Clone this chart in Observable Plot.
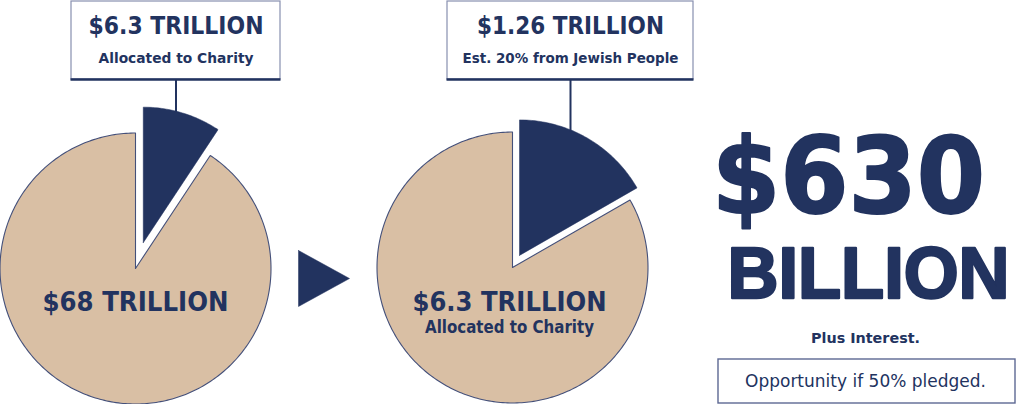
<!DOCTYPE html>
<html>
<head>
<meta charset="utf-8">
<script src="https://cdn.jsdelivr.net/npm/d3@7"></script>
<script src="https://cdn.jsdelivr.net/npm/@observablehq/plot@0.6"></script>
<style>
  html, body { margin: 0; padding: 0; background: #ffffff; }
  #chart { width: 1016px; height: 404px; overflow: hidden; }
</style>
</head>
<body>
<div id="chart"></div>
<script>
// ---------- data ----------
const pie1Shares = [9.3, 90.7];      // highlighted slice vs remainder, first pie
const pie2Shares = [16.7, 83.3];     // highlighted slice vs remainder, second pie
const pieTitles = ["$68 TRILLION", "$6.3 TRILLION"];
const pieSubtitles = ["", "Allocated to Charity"];
const calloutTitles = ["$6.3 TRILLION", "$1.26 TRILLION"];
const calloutSubtitles = ["Allocated to Charity", "Est. 20% from Jewish People"];
const headline = ["$630", "BILLION"];
const noteText = "Plus Interest.";
const footText = "Opportunity if 50% pledged.";

// ---------- style / layout ----------
const NAVY = "#22335f";
const TAN = "#d9bfa4";
const BOXLINE = "#8890b0";
const FONT = "'DejaVu Sans', sans-serif";

const pies = [
  {shares: pie1Shares, cx: 135, cy: 268, r: 135.5, explode: 27, box: [71, 280], title: pieTitles[0], sub: pieSubtitles[0], tx: 135},
  {shares: pie2Shares, cx: 512, cy: 267, r: 135.5, explode: 14, box: [447, 693], title: pieTitles[1], sub: pieSubtitles[1], tx: 509}
];

function arcPolygon(cx, cy, r, a0, a1) {
  const pts = [{x: cx, y: cy}];
  const n = Math.max(8, Math.ceil((a1 - a0) / (Math.PI / 180)));
  for (let i = 0; i <= n; i++) {
    const a = a0 + (a1 - a0) * i / n;
    pts.push({x: cx + r * Math.sin(a), y: cy - r * Math.cos(a)});
  }
  pts.push({x: cx, y: cy});
  return pts;
}

const marks = [];
const pieGen = d3.pie().sort(null).startAngle(0).endAngle(2 * Math.PI);

pies.forEach((p, i) => {
  const arcs = pieGen(p.shares);
  const hi = arcs[0], rest = arcs[1];
  // remainder (tan)
  marks.push(Plot.line(arcPolygon(p.cx, p.cy, p.r, rest.startAngle, rest.endAngle),
    {x: "x", y: "y", fill: TAN, stroke: "#44507a", strokeWidth: 1.1, curve: "linear"}));
  // exploded highlighted slice
  const mid = (hi.startAngle + hi.endAngle) / 2;
  const vx = p.cx + p.explode * Math.sin(mid), vy = p.cy - p.explode * Math.cos(mid);
  marks.push(Plot.line(arcPolygon(vx, vy, p.r, hi.startAngle, hi.endAngle),
    {x: "x", y: "y", fill: NAVY, stroke: NAVY, strokeWidth: 0.5, curve: "linear"}));
  // callout box
  const bx = (p.box[0] + p.box[1]) / 2;
  marks.push(Plot.rect([0], {x1: p.box[0], x2: p.box[1], y1: 1, y2: 79, fill: "white", stroke: BOXLINE, strokeWidth: 1.2}));
  marks.push(Plot.ruleY([79], {x1: p.box[0] - 0.5, x2: p.box[1] + 0.5, stroke: NAVY, strokeWidth: 2.6}));
  // leader line to the slice arc
  const dx = bx - vx;
  const yEnd = vy - Math.sqrt(p.r * p.r - dx * dx) + 2;
  marks.push(Plot.ruleX([bx], {y1: 80, y2: yEnd, stroke: NAVY, strokeWidth: 2}));
  // callout texts
  marks.push(Plot.text([calloutTitles[i]], {x: bx, y: 26, text: d => d, fill: NAVY, fontSize: 24, fontWeight: 800}));
  marks.push(Plot.text([calloutSubtitles[i]], {x: bx, y: 58, text: d => d, fill: NAVY, fontSize: 14.5, fontWeight: 700}));
  // pie labels
  marks.push(Plot.text([p.title], {x: p.tx, y: 302, text: d => d, fill: NAVY, fontSize: 27, fontWeight: 800}));
  if (p.sub) marks.push(Plot.text([p.sub], {x: p.tx, y: 327, text: d => d, fill: NAVY, fontSize: 17, fontWeight: 700}));
});

// arrow between pies
marks.push(Plot.line([{x: 298, y: 250}, {x: 349, y: 278}, {x: 298, y: 306}, {x: 298, y: 250}],
  {x: "x", y: "y", fill: NAVY, stroke: NAVY, strokeWidth: 0.5}));

// headline
marks.push(Plot.text([headline[0]], {x: 848, y: 179, text: d => d, fill: NAVY, fontSize: 106, fontWeight: 900,
  stroke: NAVY, strokeWidth: 2}));
marks.push(Plot.text([headline[1]], {x: 868, y: 274, text: d => d, fill: NAVY, fontSize: 72, fontWeight: 900,
  fontFamily: "'Liberation Sans', Arial, sans-serif", stroke: NAVY, strokeWidth: 2.5}));
marks.push(Plot.text([noteText], {x: 865, y: 338, text: d => d, fill: NAVY, fontSize: 14, fontWeight: 700}));
marks.push(Plot.rect([0], {x1: 718, x2: 1015, y1: 359, y2: 403, fill: "none", stroke: "#5d6893", strokeWidth: 1.4}));
marks.push(Plot.text([footText], {x: 865, y: 381, text: d => d, fill: NAVY, fontSize: 17, fontWeight: 500}));

const chart = Plot.plot({
  width: 1016,
  height: 404,
  margin: 0,
  x: {domain: [0, 1016], range: [0, 1016], axis: null},
  y: {domain: [0, 404], range: [0, 404], axis: null},
  style: {background: "white", fontFamily: FONT, overflow: "visible"},
  marks
});

// fit text widths to the reference lettering
const widths = {
  "$6.3 TRILLION": [175, 194], "Allocated to Charity": [155, 169], "$1.26 TRILLION": [187],
  "Est. 20% from Jewish People": [216], "$68 TRILLION": [186], "$630": [273], "BILLION": [282],
  "Plus Interest.": [109], "Opportunity if 50% pledged.": [241]
};
const seen = {};
chart.querySelectorAll("text").forEach(t => {
  const s = t.textContent;
  if (widths[s]) {
    const k = seen[s] || 0;
    seen[s] = k + 1;
    const w = widths[s][Math.min(k, widths[s].length - 1)];
    t.setAttribute("textLength", w);
    t.setAttribute("lengthAdjust", "spacingAndGlyphs");
  }
});
document.getElementById("chart").appendChild(chart);
</script>
</body>
</html>
